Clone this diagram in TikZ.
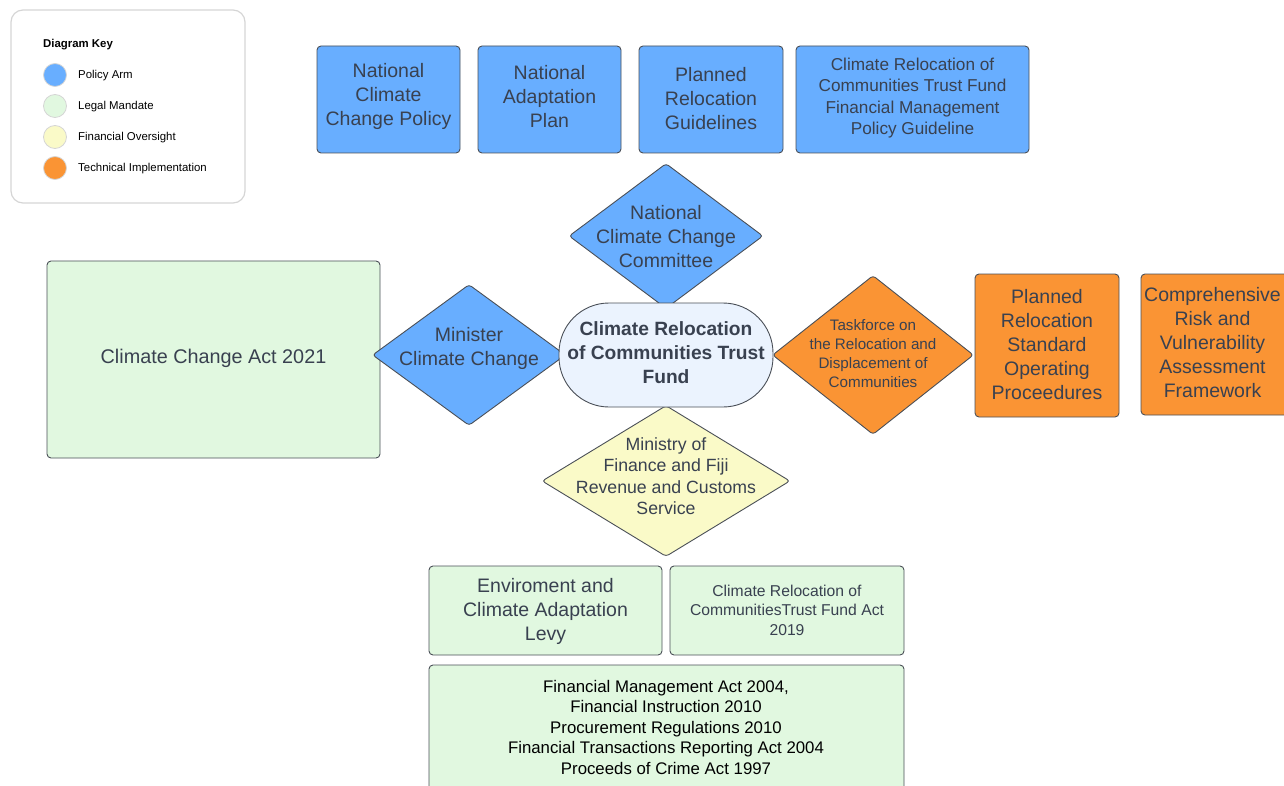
\documentclass[tikz,border=0pt]{standalone}
\usepackage{fontspec}
\setmainfont{Liberation Sans}
\usetikzlibrary{shapes.geometric}
\definecolor{pblue}{HTML}{68AEFF}
\definecolor{lgreen}{HTML}{E1F8E0}
\definecolor{lyellow}{HTML}{FAFAC8}
\definecolor{torange}{HTML}{FA9434}
\definecolor{cfill}{HTML}{EBF3FE}
\definecolor{bord}{HTML}{4A4F57}
\definecolor{txt}{HTML}{394150}
\definecolor{keybord}{HTML}{D5D5D5}
\tikzset{
  box/.style={draw=bord, line width=0.9pt, rounded corners=4pt},
  diam/.style={draw=bord, line width=0.9pt, diamond, inner sep=0pt, rounded corners=3pt},
  lbl/.style={text=txt, align=center, inner sep=0pt},
  keydot/.style={circle, draw=keybord, line width=0.8pt, minimum size=23pt, inner sep=0pt},
  keytxt/.style={anchor=west, inner sep=0pt, font=\fontsize{11.4}{13}\selectfont},
}
\newcommand{\fs}[2]{\fontsize{#1}{#2}\selectfont}
\begin{document}
\begin{tikzpicture}[x=1pt,y=-1pt]
\useasboundingbox (0,0) rectangle (1284,786);
\begin{scope}
\clip (0,0) rectangle (1284,786);
% key
\draw[draw=keybord, line width=1.2pt, rounded corners=12pt] (11,10) rectangle (245,203);
\node[anchor=west, inner sep=0pt, font=\bfseries\fs{11.4}{13}] (keyt) at (43,45) {Diagram Key};
\node[keydot, fill=pblue] (k1) at (55,75) {};
\node[keydot, fill=lgreen] (k2) at (55,106) {};
\node[keydot, fill=lyellow] (k3) at (55,137) {};
\node[keydot, fill=torange] (k4) at (55,168) {};
\node[keytxt] (k1t) at (78,75.5) {Policy Arm};
\node[keytxt] (k2t) at (78,106.5) {Legal Mandate};
\node[keytxt] (k3t) at (78,137.5) {Financial Oversight};
\node[keytxt] (k4t) at (78,168.5) {Technical Implementation};

% top policy boxes
\draw[box, fill=pblue] (317,46) rectangle (460,153);
\node[lbl, font=\fs{19.5}{24}] (nccp) at (388.5,96.5) {National\\Climate\\Change Policy};
\draw[box, fill=pblue] (478,46) rectangle (621,153);
\node[lbl, font=\fs{19.5}{24}] (nap) at (549.5,96.5) {National\\Adaptation\\Plan};
\draw[box, fill=pblue] (639,46) rectangle (783,153);
\node[lbl, font=\fs{19.5}{24}] (prg) at (711,98.5) {Planned\\Relocation\\Guidelines};
\draw[box, fill=pblue] (796,46) rectangle (1029,153);
\node[lbl, font=\fs{17.2}{21.5}] (fmpg) at (912.5,98) {Climate Relocation of\\Communities Trust Fund\\Financial Management\\Policy Guideline};

% legal mandate
\draw[box, fill=lgreen] (47,261) rectangle (380,458);
\node[lbl, font=\fs{19.8}{24}] (cca) at (213.5,358) {Climate Change Act 2021};

% diamonds
\node[diam, fill=pblue, minimum width=194pt, minimum height=145pt] (ncc) at (666,236) {};
\node[lbl, font=\fs{19.5}{24}] (ncct) at (666,237) {National\\Climate Change\\Committee};
\node[diam, fill=pblue, minimum width=193pt, minimum height=141pt] (min) at (469,355) {};
\node[lbl, font=\fs{19.5}{24}] (mint) at (469,348) {Minister\\Climate Change};
\node[diam, fill=torange, minimum width=201pt, minimum height=159pt] (task) at (873,355) {};
\node[lbl, font=\fs{15.2}{19}] (taskt) at (873,354) {Taskforce on\\the Relocation and\\Displacement of\\Communities};
\node[diam, fill=lyellow, minimum width=248pt, minimum height=151pt] (mof) at (666,481) {};
\node[lbl, font=\fs{17.7}{21.5}] (moft) at (666,476) {Ministry of\\Finance and Fiji\\Revenue and Customs\\Service};

% centre
\node[draw=bord, line width=0.9pt, fill=cfill, rounded corners=50pt, minimum width=214pt, minimum height=104pt, inner sep=0pt] (fund) at (666,355) {};
\node[lbl, font=\bfseries\fs{19.2}{24}] (fundt) at (666,353) {Climate Relocation\\of Communities Trust\\Fund};

% technical
\draw[box, fill=torange] (975,274) rectangle (1119,417);
\node[lbl, font=\fs{19.5}{24}] (sop) at (1047,345) {Planned\\Relocation\\Standard\\Operating\\Proceedures};
\draw[box, fill=torange] (1141,274) rectangle (1290,415);
\node[lbl, font=\fs{19.5}{24}] (crv) at (1212.5,343) {Comprehensive\\Risk and\\Vulnerability\\Assessment\\Framework};

% bottom
\draw[box, fill=lgreen] (429,566) rectangle (662,655);
\node[lbl, font=\fs{19.5}{24}] (levy) at (545.5,611) {Enviroment and\\Climate Adaptation\\Levy};
\draw[box, fill=lgreen] (670,566) rectangle (904,655);
\node[lbl, font=\fs{15.7}{19.5}] (act) at (787,610) {Climate Relocation of\\CommunitiesTrust Fund Act\\2019};
\draw[box, fill=lgreen] (429,665) rectangle (904,800);
\node[lbl, text=black, font=\fs{16.8}{20.5}] (fma) at (666,727) {Financial Management Act 2004,\\Financial Instruction 2010\\Procurement Regulations 2010\\Financial Transactions Reporting Act 2004\\Proceeds of Crime Act 1997};
\end{scope}
\end{tikzpicture}
\end{document}
